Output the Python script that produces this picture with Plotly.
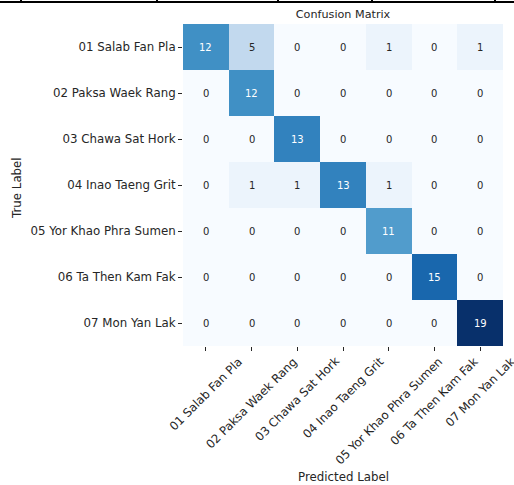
import plotly.graph_objects as go
import plotly.colors as pc

# Class names (rows = true label, columns = predicted label)
labels = [
    "01 Salab Fan Pla",
    "02 Paksa Waek Rang",
    "03 Chawa Sat Hork",
    "04 Inao Taeng Grit",
    "05 Yor Khao Phra Sumen",
    "06 Ta Then Kam Fak",
    "07 Mon Yan Lak",
]

# Confusion matrix counts
counts = [
    [12, 5, 0, 0, 1, 0, 1],
    [0, 12, 0, 0, 0, 0, 0],
    [0, 0, 13, 0, 0, 0, 0],
    [0, 1, 1, 13, 1, 0, 0],
    [0, 0, 0, 0, 11, 0, 0],
    [0, 0, 0, 0, 0, 15, 0],
    [0, 0, 0, 0, 0, 0, 19],
]

W, H = 514, 485
ML, MR, MT, MB = 183, 11, 24, 139
FONT = "DejaVu Sans"
TXT = "#262626"
LABEL_SIZE = 11.8
TITLE_SIZE = 11.2
CELL_SIZE = 10

blues = pc.sequential.Blues  # 9-step ColorBrewer Blues
scale = [[i / (len(blues) - 1), c] for i, c in enumerate(blues)]
zmin = 0
zmax = max(max(r) for r in counts)
n = len(labels)


def hex_rgb(c):
    if c.startswith("#"):
        c = c.lstrip("#")
        return tuple(int(c[i:i + 2], 16) for i in (0, 2, 4))
    return tuple(int(float(v)) for v in c[c.index("(") + 1:c.index(")")].split(","))


def color_at(t):
    t = min(max(t, 0.0), 1.0)
    k = len(blues) - 1
    i = min(int(t * k), k - 1)
    f = t * k - i
    a, b = hex_rgb(blues[i]), hex_rgb(blues[i + 1])
    return tuple(a[j] + (b[j] - a[j]) * f for j in range(3))


def luminance(rgb):
    def lin(v):
        v = v / 255.0
        return v / 12.92 if v <= 0.03928 else ((v + 0.055) / 1.055) ** 2.4
    r, g, b = (lin(v) for v in rgb)
    return 0.2126 * r + 0.7152 * g + 0.0722 * b


fig = go.Figure(
    go.Heatmap(
        z=counts,
        x=labels,
        y=labels,
        colorscale=scale,
        zmin=zmin,
        zmax=zmax,
        showscale=False,
        hoverongaps=False,
    )
)

pw = W - ML - MR
ph = H - MT - MB


def px_x(p):
    return (p - ML) / pw


def px_y(p):
    return (H - MB - p) / ph


annotations = []
# cell counts, dark text on light cells and white on dark ones
for r, row in enumerate(counts):
    for c, v in enumerate(row):
        lum = luminance(color_at((v - zmin) / (zmax - zmin)))
        annotations.append(dict(
            x=labels[c], y=labels[r], text=str(v), showarrow=False,
            font=dict(family=FONT, size=CELL_SIZE, color=TXT if lum > 0.408 else "white"),
        ))

# rotated column labels, centred under each tick
for lab in labels:
    annotations.append(dict(
        x=lab, xref="x", y=px_y(353), yref="paper", text=lab, textangle=-45,
        showarrow=False, xanchor="center", yanchor="top", borderpad=0,
        font=dict(family=FONT, size=LABEL_SIZE, color=TXT),
    ))

# axis titles
annotations.append(dict(
    x=px_x(17), y=px_y(188), xref="paper", yref="paper", text="True Label",
    textangle=-90, showarrow=False, xanchor="center", yanchor="middle",
    font=dict(family=FONT, size=LABEL_SIZE, color=TXT),
))
annotations.append(dict(
    x=0.5, y=px_y(477), xref="paper", yref="paper", text="Predicted Label",
    showarrow=False, xanchor="center", yanchor="middle",
    font=dict(family=FONT, size=LABEL_SIZE, color=TXT),
))

# table rule along the top edge
shapes = [dict(type="line", xref="paper", yref="paper",
               x0=px_x(0), x1=px_x(W), y0=px_y(2), y1=px_y(2),
               line=dict(color="black", width=2))]
for xp in (21, 157, 278, 372, 495):
    shapes.append(dict(type="line", xref="paper", yref="paper",
                       x0=px_x(xp), x1=px_x(xp), y0=px_y(0), y1=px_y(3),
                       line=dict(color="black", width=2)))

fig.update_layout(
    width=W, height=H,
    margin=dict(l=ML, r=MR, t=MT, b=MB, pad=0, autoexpand=False),
    paper_bgcolor="white", plot_bgcolor="white",
    font=dict(family=FONT, size=LABEL_SIZE, color=TXT),
    title=dict(text="Confusion Matrix", x=0.5, xref="paper",
               y=1 - 14 / H, yanchor="middle",
               font=dict(family=FONT, size=TITLE_SIZE, color=TXT)),
    annotations=annotations,
    shapes=shapes,
)
fig.update_xaxes(range=[-0.5, n - 0.5], autorange=False,
                 showticklabels=False, ticks="outside", ticklen=4, tickcolor=TXT,
                 showgrid=False, zeroline=False, showline=False)
fig.update_yaxes(range=[n - 0.5, -0.5], autorange=False,
                 ticks="outside", ticklen=4, tickcolor=TXT,
                 showgrid=False, zeroline=False, showline=False,
                 tickfont=dict(family=FONT, size=LABEL_SIZE, color=TXT))

fig.write_html("out.html")
